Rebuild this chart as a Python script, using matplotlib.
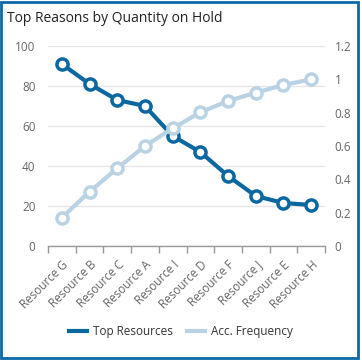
import matplotlib
matplotlib.use("Agg")
import matplotlib.pyplot as plt
from matplotlib.patches import Rectangle
from matplotlib.lines import Line2D

categories = ["Resource G", "Resource B", "Resource C", "Resource A", "Resource I",
              "Resource D", "Resource F", "Resource J", "Resource E", "Resource H"]
top_resources = [91, 81, 73, 70, 55, 47, 35, 25, 21.5, 20.5]
acc_frequency = [0.17, 0.326, 0.466, 0.60, 0.706, 0.802, 0.87, 0.92, 0.966, 1.0]
left_ticks = [0, 20, 40, 60, 80, 100]
right_ticks = [0, 0.2, 0.4, 0.6, 0.8, 1.0, 1.2]
right_labels = ["0", "0.2", "0.4", "0.6", "0.8", "1", "1.2"]

plt.rcParams['font.family'] = ['Open Sans', 'DejaVu Sans']

W = H = 362
fig = plt.figure(figsize=(W / 100, H / 100), dpi=100)
fig.patch.set_facecolor("white")

dark = "#0b67a0"
light = "#b9d3e5"
grid = "#e6e6e6"
txt = "#666666"

# plot area in pixels: x 48..325, y 46..246 (top-origin)
x0, x1, yt, yb = 48, 325, 46, 246
ax = fig.add_axes([x0 / W, 1 - yb / H, (x1 - x0) / W, (yb - yt) / H])
ax2 = ax.twinx()

n = len(categories)
xs = list(range(n))
ax.set_xlim(-0.5, n - 0.5)
ax.set_ylim(0, 100)
ax2.set_ylim(0, 1.2)

for s in ["top", "right", "left"]:
    ax.spines[s].set_visible(False)
    ax2.spines[s].set_visible(False)
ax2.spines["bottom"].set_visible(False)
ax.spines["bottom"].set_color("#999999")
ax.spines["bottom"].set_linewidth(1)

ax.set_yticks(left_ticks)
ax.set_yticklabels([str(t) for t in left_ticks])
ax.tick_params(axis="y", length=0, pad=9, labelsize=8.5, labelcolor=txt)
ax.yaxis.grid(True, color=grid, linewidth=1)
ax.set_axisbelow(True)

ax2.set_yticks(right_ticks)
ax2.set_yticklabels(right_labels)
ax2.tick_params(axis="y", length=0, pad=7, labelsize=8.5, labelcolor=txt)

ax.set_xticks(xs)
ax.set_xticklabels(categories, rotation=45, ha="right", rotation_mode="anchor")
ax.tick_params(axis="x", length=0, pad=9, labelsize=8.4, labelcolor=txt)
# boundary ticks
ax.set_xticks([i - 0.5 for i in range(n + 1)], minor=True)
ax.tick_params(axis="x", which="minor", length=5, color="#999999", width=1)

ax.plot(xs, top_resources, color=dark, linewidth=3, marker="o", markersize=8,
        markerfacecolor="white", markeredgecolor=dark, markeredgewidth=2.5, zorder=3)
ax2.plot(xs, acc_frequency, color=light, linewidth=3, marker="o", markersize=8,
         markerfacecolor="white", markeredgecolor=light, markeredgewidth=2.5, zorder=3)

fig.text(7 / W, 1 - 18 / H, "Top Reasons by Quantity on Hold", fontsize=10,
         color="#222222", va="center", ha="left")

handles = [Line2D([0], [0], color=dark, linewidth=3),
           Line2D([0], [0], color=light, linewidth=3)]
fig.legend(handles, ["Top Resources", "Acc. Frequency"], loc="center",
           bbox_to_anchor=(0.5, 1 - 332 / H), ncol=2, frameon=False,
           fontsize=8.5, handlelength=1.5, columnspacing=1.2, handletextpad=0.5,
           labelcolor="#333333")

fig.patches.append(Rectangle((1 / W, 4 / H), (W - 5) / W, (H - 6) / H,
                             transform=fig.transFigure, fill=False,
                             edgecolor="#0a69a8", linewidth=2))

fig.savefig("out.png", dpi=100, facecolor="white")
